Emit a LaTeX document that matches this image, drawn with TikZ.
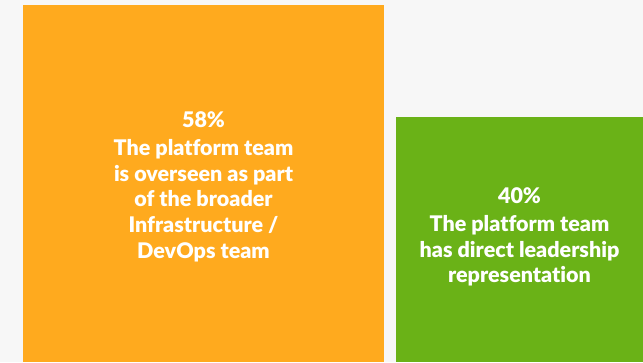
\documentclass[tikz,border=0pt]{standalone}
\usepackage{fontspec}
\IfFontExistsTF{Lato Black}
  {\setmainfont{Lato}[BoldFont={Lato Black},Ligatures=NoCommon]}
  {\setmainfont{Lato}[Ligatures=NoCommon]}
\usepackage{tikz}

\definecolor{pagebg}{HTML}{F7F7F7}
\definecolor{overseen}{HTML}{FFAA1E}
\definecolor{direct}{HTML}{6AB217}

\begin{document}
\begin{tikzpicture}[x=1pt,y=1pt,
    share/.style={text=white, font=\bfseries\fontsize{21.5}{25.7}\selectfont, align=center, inner sep=0pt}]
    \fill[pagebg] (0,0) rectangle (643,362);
    % bars
    \coordinate (a0) at (23,0);
    \coordinate (a1) at (384,357);
    \coordinate (b0) at (396,0);
    \coordinate (b1) at (643,245);
    \fill[overseen] (a0) rectangle (a1);
    \fill[direct] (b0) rectangle (b1);
    % labels
    \node[share] (overseenlabel) at (203.5,175.5) {58\%\\[2.5pt]The platform team\\is overseen as part\\of the broader\\Infrastructure /\\DevOps team};
    \node[share] (directlabel) at (519.5,125) {40\%\\[2.5pt]The platform team\\has direct leadership\\representation};
\end{tikzpicture}
\end{document}
